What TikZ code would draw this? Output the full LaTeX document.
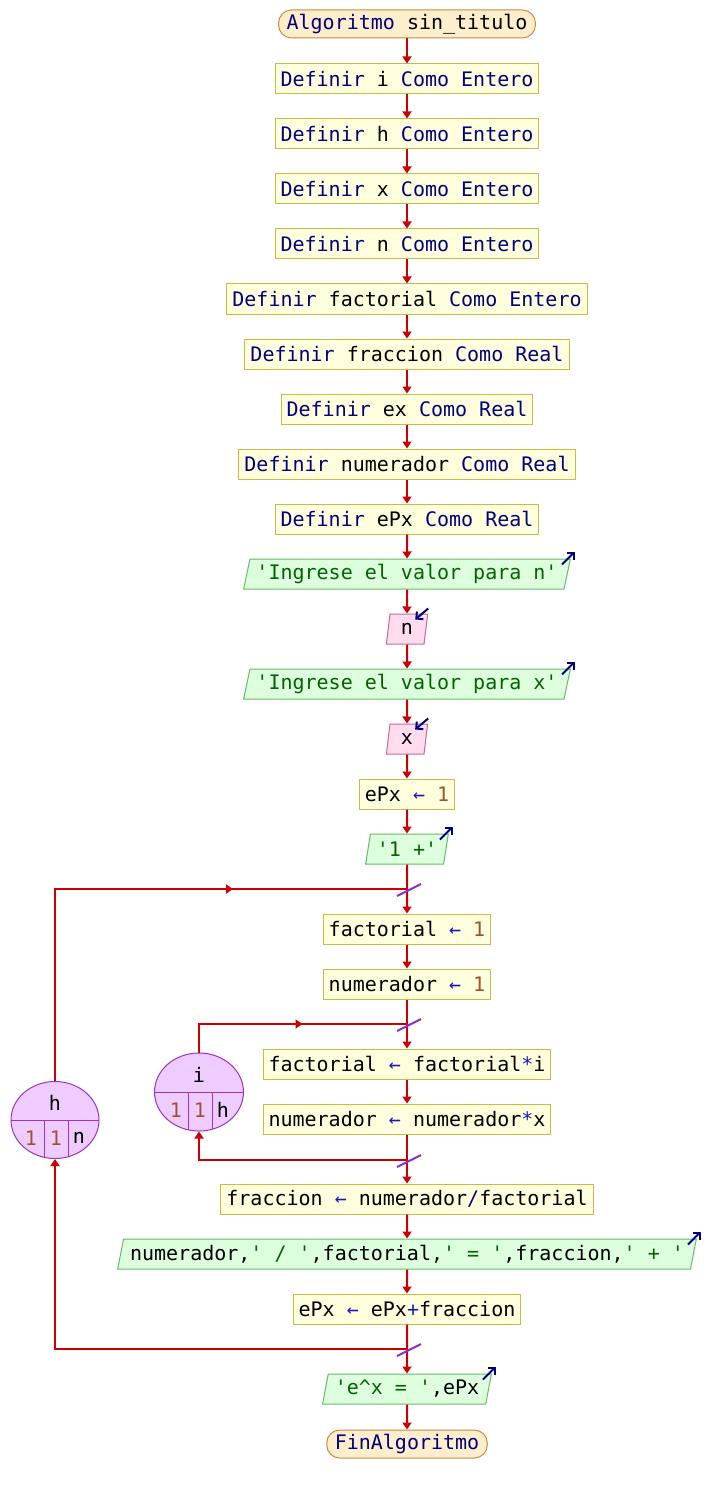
\documentclass[tikz,border=0pt]{standalone}
\usepackage{fontspec}
\setmonofont{DejaVu Sans Mono}
\usetikzlibrary{arrows.meta,shapes.geometric,decorations.markings,calc}
\definecolor{lred}{HTML}{CC0000}
\definecolor{procF}{HTML}{FFFFDD}
\definecolor{procB}{HTML}{C4BE48}
\definecolor{termF}{HTML}{FFEECC}
\definecolor{termB}{HTML}{CC8840}
\definecolor{outF}{HTML}{DDFFDD}
\definecolor{outB}{HTML}{66BB66}
\definecolor{inF}{HTML}{FFDDEE}
\definecolor{inB}{HTML}{CC6699}
\definecolor{ellF}{HTML}{EECCFF}
\definecolor{ellB}{HTML}{9933CC}
\definecolor{kwC}{HTML}{000080}
\definecolor{opC}{HTML}{1A1AB0}
\definecolor{numC}{HTML}{A0522D}
\definecolor{strC}{HTML}{006400}
\definecolor{slashC}{HTML}{8833CC}
\definecolor{iconC}{HTML}{000080}
\newcommand{\kw}[1]{\textcolor{kwC}{#1}}
\newcommand{\opr}[1]{\textcolor{opC}{#1}}
\newcommand{\nm}[1]{\textcolor{numC}{#1}}
\newcommand{\str}[1]{\textcolor{strC}{#1}}
\newcommand{\asg}{\opr{←}}
\begin{document}
\begin{tikzpicture}[x=1pt,y=-1pt,
  font=\ttfamily\fontsize{20}{24}\selectfont,
  proc/.style={draw=procB, fill=procF, line width=1pt, minimum height=30pt, inner xsep=5.5pt, inner ysep=0pt},
  term/.style={draw=termB, fill=termF, line width=1pt, minimum height=28pt, inner xsep=8pt, inner ysep=0pt, rounded corners=13pt},
  outp/.style={trapezium, trapezium left angle=72, trapezium right angle=108, trapezium stretches body, draw=outB, fill=outF, line width=1pt, minimum height=30pt, inner xsep=6.5pt, inner ysep=0pt},
  inp/.style={outp, draw=inB, fill=inF, inner xsep=11pt},
  flow/.style={draw=lred, line width=2pt, -{Triangle[length=7pt,width=9pt]}},
  loopline/.style={draw=lred, line width=2pt},
  midarrow/.style={postaction={decorate}, decoration={markings, mark=at position #1 with {\arrow[lred]{Triangle[length=7pt,width=9pt]}}}},
  slash/.style={draw=slashC, line width=2pt},
  icon/.style={draw=iconC, line width=2pt, -{Straight Barb[length=5pt,width=10pt]}},
  loopell/.style={ellipse, draw=ellB, fill=ellF, line width=1pt, inner sep=0pt},
  divl/.style={draw=ellB, line width=1pt}
]
\useasboundingbox (0,0) rectangle (706,1495);

\node[term] (start) at (407,24) {\kw{Algoritmo} sin\_titulo};
\node[proc] (d1) at (407,79) {\kw{Definir} i \kw{Como Entero}};
\node[proc] (d2) at (407,134) {\kw{Definir} h \kw{Como Entero}};
\node[proc] (d3) at (407,189) {\kw{Definir} x \kw{Como Entero}};
\node[proc] (d4) at (407,244) {\kw{Definir} n \kw{Como Entero}};
\node[proc] (d5) at (407,299) {\kw{Definir} factorial \kw{Como Entero}};
\node[proc] (d6) at (407,354) {\kw{Definir} fraccion \kw{Como Real}};
\node[proc] (d7) at (407,409) {\kw{Definir} ex \kw{Como Real}};
\node[proc] (d8) at (407,464) {\kw{Definir} numerador \kw{Como Real}};
\node[proc] (d9) at (407,519) {\kw{Definir} ePx \kw{Como Real}};
\node[outp] (o1) at (407,574) {\str{'Ingrese el valor para n'}};
\node[inp] (i1) at (407,629) {n};
\node[outp] (o2) at (407,684) {\str{'Ingrese el valor para x'}};
\node[inp] (i2) at (407,739) {x};
\node[proc] (a1) at (407,794) {ePx \asg{} \nm{1}};
\node[outp] (o3) at (407,849) {\str{'1 +'}};
\node[proc] (a2) at (407,929) {factorial \asg{} \nm{1}};
\node[proc] (a3) at (407,984) {numerador \asg{} \nm{1}};
\node[proc] (a4) at (407,1064) {factorial \asg{} factorial\opr{*}i};
\node[proc] (a5) at (407,1119) {numerador \asg{} numerador\opr{*}x};
\node[proc] (a6) at (407,1199) {fraccion \asg{} numerador\kw{/}factorial};
\node[outp] (o4) at (407,1254) {numerador,\str{' / '},factorial,\str{' = '},fraccion,\str{' + '}};
\node[proc] (a7) at (407,1309) {ePx \asg{} ePx\opr{+}fraccion};
\node[outp] (o5) at (407,1389) {\str{'e\textasciicircum x = '},ePx};
\node[term] (fin) at (407,1444) {\kw{FinAlgoritmo}};

\coordinate (j1) at (407,889);
\coordinate (j2) at (407,1024);
\coordinate (j3) at (407,1160);
\coordinate (j4) at (407,1349);

% main flow
\draw[flow] (start) -- (d1);
\draw[flow] (d1) -- (d2);
\draw[flow] (d2) -- (d3);
\draw[flow] (d3) -- (d4);
\draw[flow] (d4) -- (d5);
\draw[flow] (d5) -- (d6);
\draw[flow] (d6) -- (d7);
\draw[flow] (d7) -- (d8);
\draw[flow] (d8) -- (d9);
\draw[flow] (d9.south) -- (o1.north);
\draw[flow] (o1.south) -- (i1.north);
\draw[flow] (i1.south) -- (o2.north);
\draw[flow] (o2.south) -- (i2.north);
\draw[flow] (i2.south) -- (a1.north);
\draw[flow] (a1.south) -- (o3.north);
\draw[flow] (o3.south) -- (a2.north);
\draw[flow] (a2) -- (a3);
\draw[flow] (a3) -- (a4);
\draw[flow] (a4) -- (a5);
\draw[flow] (a5) -- (a6);
\draw[flow] (a6.south) -- (o4.north);
\draw[flow] (o4.south) -- (a7.north);
\draw[flow] (a7.south) -- (o5.north);
\draw[flow] (o5.south) -- (fin.north);

% loop h
\node[loopell, minimum width=88pt, minimum height=77pt] (lh) at (55,1120) {};
\begin{scope}
  \clip (55,1120) ellipse [x radius=44, y radius=38.5];
  \draw[divl] (lh.west) -- (lh.east);
  \draw[divl] (44,1120) -- (44,1160);
  \draw[divl] (68,1120) -- (68,1160);
\end{scope}
\node (hvar) at (55,1103) {h};
\node (hini) at (31,1138) {\nm{1}};
\node (hstep) at (56,1138) {\nm{1}};
\node (hfin) at (79,1138) {n};
\draw[loopline, midarrow=370pt] (lh.north) |- (j1);
\draw[flow] (j4) -| (lh.south);

% loop i
\node[loopell, minimum width=89pt, minimum height=78pt] (li) at (199,1092) {};
\begin{scope}
  \clip (199,1092) ellipse [x radius=44.5, y radius=39];
  \draw[divl] (li.west) -- (li.east);
  \draw[divl] (188,1092) -- (188,1135);
  \draw[divl] (212,1092) -- (212,1135);
\end{scope}
\node (ivar) at (199,1075) {i};
\node (iini) at (176,1110) {\nm{1}};
\node (istep) at (200,1110) {\nm{1}};
\node (ifin) at (223,1110) {h};
\draw[loopline, midarrow=132pt] (li.north) |- (j2);
\draw[flow] (j3) -| (li.south);

% junction marks
\foreach \j in {j1,j2,j3,j4}
  \draw[slash] ($(\j)+(-10,7)$) -- ($(\j)+(14,-5)$);

% io icons
\foreach \o in {o1,o2,o3,o4,o5}
  \draw[icon] ($(\o.top right corner)+(-9,6)$) -- ($(\o.top right corner)+(4,-7)$);
\foreach \o in {i1,i2}
  \draw[icon] ($(\o.top right corner)+(0,-5)$) -- ($(\o.top right corner)+(-13,6)$);
\end{tikzpicture}
\end{document}
